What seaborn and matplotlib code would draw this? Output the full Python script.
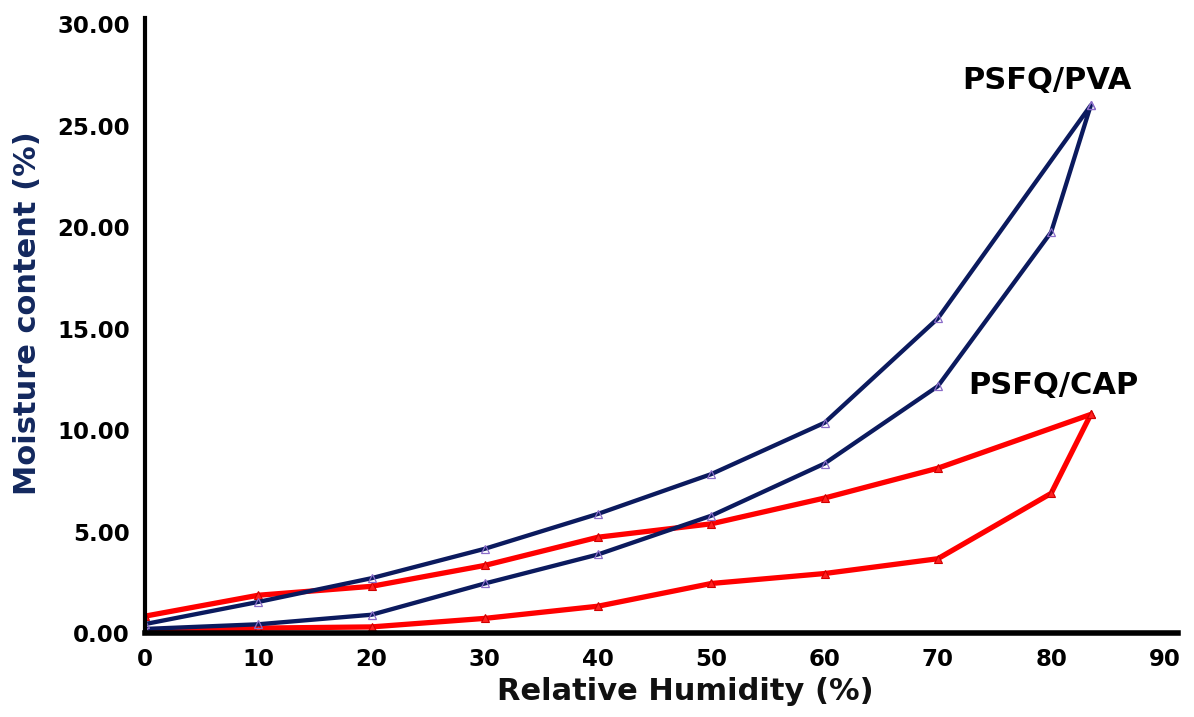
import numpy as np
import pandas as pd
import matplotlib
matplotlib.use("Agg")
import matplotlib.pyplot as plt
import seaborn as sns
from matplotlib.ticker import FormatStrFormatter

# ---- data ----
rh_ads = [0, 10, 20, 30, 40, 50, 60, 70, 80, 83.5]
rh_des = [83.5, 70, 60, 50, 40, 30, 20, 10, 0]

pva_ads = [0.20, 0.43, 0.90, 2.44, 3.87, 5.78, 8.35, 12.16, 19.75, 26.0]
pva_des = [26.0, 15.5, 10.36, 7.83, 5.87, 4.15, 2.70, 1.53, 0.44]

cap_ads = [0.10, 0.24, 0.30, 0.72, 1.32, 2.44, 2.93, 3.66, 6.88, 10.77]
cap_des = [10.77, 8.12, 6.65, 5.38, 4.72, 3.33, 2.30, 1.86, 0.83]

materials = ["PSFQ/PVA", "PSFQ/CAP"]
x_ticks = [0, 10, 20, 30, 40, 50, 60, 70, 80, 90]
y_ticks = [0, 5, 10, 15, 20, 25, 30]

def loop_frame(name, ads, des):
    rh = rh_ads + rh_des
    mc = ads + des
    return pd.DataFrame({"material": name, "rh": rh, "mc": mc,
                         "order": range(len(rh))})

df_pva = loop_frame(materials[0], pva_ads, pva_des)
df_cap = loop_frame(materials[1], cap_ads, cap_des)

# ---- style ----
sns.set_style("white")
plt.rcParams["font.family"] = ["DejaVu Sans"]
plt.rcParams["font.weight"] = "bold"

W, H = 1194, 717
fig = plt.figure(figsize=(W / 100, H / 100), dpi=100)
ax = fig.add_axes([145 / W, 84 / H, 1033 / W, 615 / H])

sns.lineplot(data=df_cap, x="rh", y="mc", sort=False, estimator=None,
             color="#ff0000", lw=3.8, marker="^", markersize=6,
             markerfacecolor="#ff2020", markeredgecolor="#d00000",
             markeredgewidth=0.8, ax=ax, legend=False)
sns.lineplot(data=df_pva, x="rh", y="mc", sort=False, estimator=None,
             color="#0b1a5e", lw=3.1, marker="^", markersize=6,
             markerfacecolor="none", markeredgecolor="#8a6cc8",
             markeredgewidth=0.9, ax=ax, legend=False)

ax.set_xlim(0, 91.2)
ax.set_ylim(0, 30.3)
ax.set_xticks(x_ticks)
ax.set_yticks(y_ticks)
ax.yaxis.set_major_formatter(FormatStrFormatter("%.2f"))

for s in ["top", "right"]:
    ax.spines[s].set_visible(False)
ax.spines["left"].set_linewidth(3.0)
ax.spines["bottom"].set_linewidth(4.0)
ax.spines["left"].set_color("black")
ax.spines["bottom"].set_color("black")

ax.tick_params(axis="both", which="major", direction="out", length=4,
               width=1, color="#666666", labelsize=16.5, labelcolor="black")
ax.tick_params(axis="x", pad=7)
ax.tick_params(axis="y", pad=7)
for lab in ax.get_xticklabels() + ax.get_yticklabels():
    lab.set_fontweight("bold")

ax.set_xlabel("Relative Humidity (%)", fontsize=22, fontweight="bold",
              color="#111111")
ax.set_ylabel("Moisture content (%)", fontsize=22, fontweight="bold",
              color="#13285e")
ax.xaxis.set_label_coords((685 - 145) / 1033, (633 - 692) / 615)
ax.xaxis.label.set_va("center")
ax.yaxis.set_label_coords((28 - 145) / 1033, (633 - 313) / 615)
ax.yaxis.label.set_va("center")

ax.text(79.6, 27.2, materials[0], fontsize=22, fontweight="bold",
        ha="center", va="center", color="black")
ax.text(80.2, 12.2, materials[1], fontsize=22, fontweight="bold",
        ha="center", va="center", color="black")

fig.savefig("out.png", dpi=100)
